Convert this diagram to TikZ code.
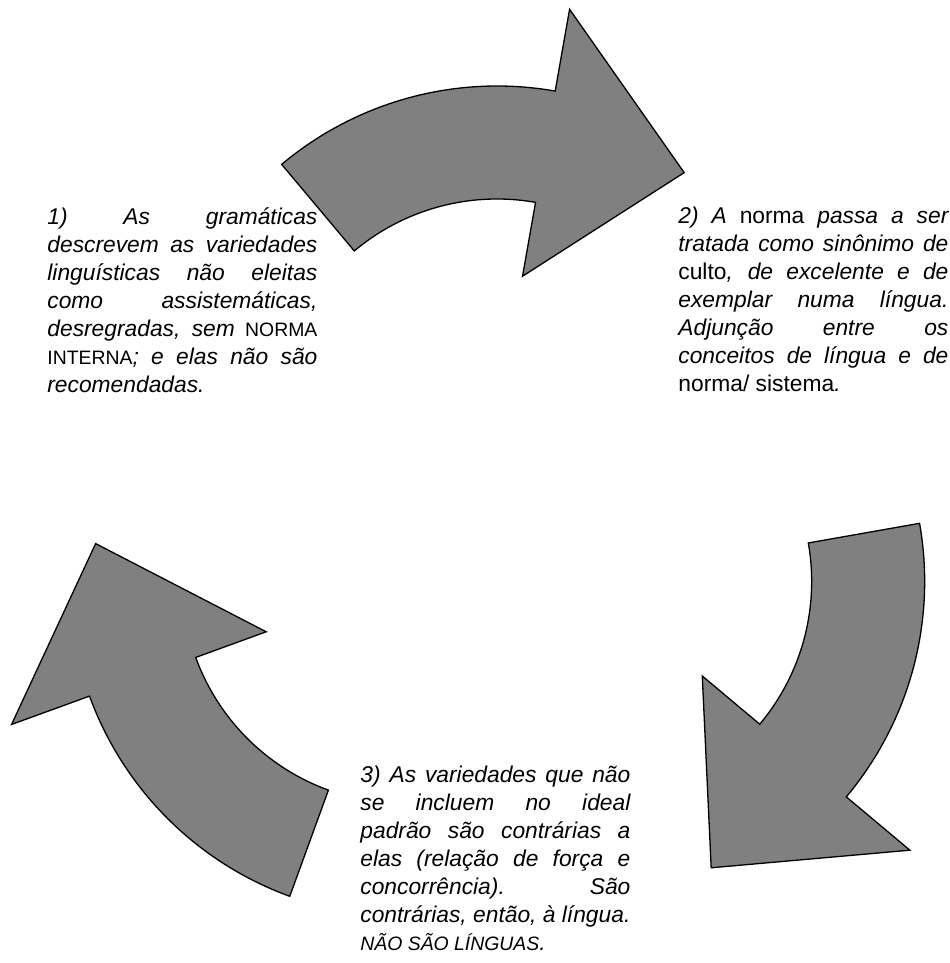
\documentclass[tikz,border=0pt]{standalone}
\usepackage{fontspec}
\setmainfont{Liberation Sans}
\usepackage{tikz}
\usetikzlibrary{calc,positioning}
\hyphenpenalty=10000
\exhyphenpenalty=10000
\newcommand{\versal}[1]{{\fontsize{9.7}{14}\selectfont #1}}
\newcommand{\cyclearrow}[2]{%
  \coordinate (#1) at ($(O)+(#2:107)$);
  \draw[bent] ($(#1)+(#2-40:335)$) arc[start angle=#2-40,end angle=#2+10,radius=335]
    -- ($(#1)+(#2+10:418)$) -- ($(#1)+(#2+37:311)$) -- ($(#1)+(#2+10:147)$)
    -- ($(#1)+(#2+10:222)$) arc[start angle=#2+10,end angle=#2-40,radius=222] -- cycle;}
\tikzset{
  bent/.style={fill=gray,draw=black,line width=0.65pt,line join=miter},
  txt/.style={anchor=north west,inner sep=0pt,text width=135pt,align=justify,
    font=\fontsize{11.4}{14}\selectfont\itshape,
    execute at begin node={\hyphenpenalty=10000\emergencystretch=2em}},
}
\begin{document}
\begin{tikzpicture}[x=0.5pt,y=-0.5pt]
  \useasboundingbox (0,0) rectangle (949,963);
  \coordinate (O) at (497,528);

  % the three arrows of the cycle
  \cyclearrow{c1}{-90}
  \cyclearrow{c2}{30}
  \cyclearrow{c3}{150}

  \node[txt] (t1) at (47,207) {1) As gramáticas\linebreak descrevem as variedades\linebreak
    linguísticas não eleitas\linebreak como assistemáticas,\linebreak
    desregradas, sem {\upshape\versal{NORMA}}\linebreak
    {\upshape\versal{INTERNA}}; e elas não são\linebreak recomendadas.};
  \node[txt] (t2) at (678,207) {2) A {\upshape norma} passa a ser\linebreak
    tratada como sinônimo de\linebreak
    {\upshape culto}, de excelente e de\linebreak exemplar numa língua.\linebreak
    Adjunção entre os\linebreak conceitos de língua e de\linebreak
    {\upshape norma/ sistema}.};
  \node[txt] (t3) at (360,766) {3) As variedades que não\linebreak se incluem no ideal\linebreak
    padrão são contrárias a\linebreak elas (relação de força e\linebreak
    concorrência). São\linebreak contrárias, então, à língua.\linebreak
    \versal{NÃO SÃO LÍNGUAS}.};
\end{tikzpicture}
\end{document}
